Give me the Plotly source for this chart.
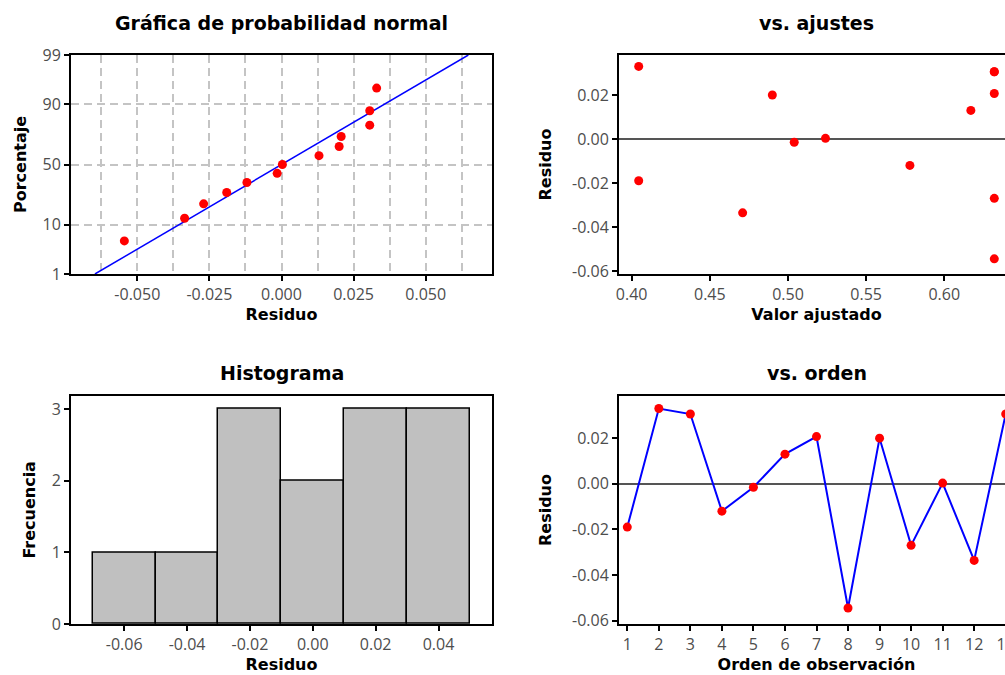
import numpy as np
import plotly.graph_objects as go
from statistics import NormalDist

# ---------------- data ----------------
observation = list(range(1, 14))
residuals = [-0.019, 0.033, 0.0306, -0.012, -0.0015, 0.013, 0.0207,
             -0.0545, 0.020, -0.027, 0.0003, -0.0336, 0.0306]
fitted = [0.4045, 0.4045, 0.632, 0.578, 0.504, 0.617, 0.632,
          0.632, 0.490, 0.632, 0.524, 0.471, 0.632]
hist_edges = [-0.07, -0.05, -0.03, -0.01, 0.01, 0.03, 0.05]

prob_pct_ticks = [1, 10, 50, 90, 99]
prob_x_ticks = [-0.05, -0.025, 0.0, 0.025, 0.05]
prob_x_labels = ["-0.050", "-0.025", "0.000", "0.025", "0.050"]
fit_x_ticks = [0.40, 0.45, 0.50, 0.55, 0.60]
fit_x_labels = ["0.40", "0.45", "0.50", "0.55", "0.60"]
resid_ticks = [-0.06, -0.04, -0.02, 0.0, 0.02]
resid_labels = ["-0.06", "-0.04", "-0.02", "0.00", "0.02"]
hist_x_ticks = [-0.06, -0.04, -0.02, 0.0, 0.02, 0.04]
hist_x_labels = ["-0.06", "-0.04", "-0.02", "0.00", "0.02", "0.04"]
freq_ticks = [0, 1, 2, 3]

# ---------------- derived ----------------
nd = NormalDist()
n = len(residuals)
sorted_res = sorted(residuals)
z_pts = [nd.inv_cdf((i - 0.3) / (n + 0.4)) for i in range(1, n + 1)]
mu = float(np.mean(residuals))
sd = float(np.std(residuals, ddof=1))
z_lo, z_hi = nd.inv_cdf(0.01), nd.inv_cdf(0.99)
line_z = [z_lo, z_hi]
line_x = [mu + sd * z for z in line_z]
counts, _ = np.histogram(residuals, bins=hist_edges)
centers = [(hist_edges[i] + hist_edges[i + 1]) / 2 for i in range(len(hist_edges) - 1)]
width_bin = hist_edges[1] - hist_edges[0]

# ---------------- layout helpers ----------------
W, H = 1035, 675
def px(x):
    return x / W
def py(y):
    return 1 - y / H

TICKFONT = dict(family="Open Sans, Arial, sans-serif", size=16, color="#4d4d4d")
TITLEFONT = dict(family="DejaVu Sans, Verdana, sans-serif", size=16, color="black", weight="bold")
RED = "#FF0000"
BLUE = "#0000FF"
GRID = "#C4C4C4"

def axis_common(**kw):
    d = dict(showline=True, linecolor="black", linewidth=2, mirror=True,
             ticks="outside", ticklen=5, tickwidth=1.5, tickcolor="black",
             tickfont=TICKFONT, showgrid=False, zeroline=False, fixedrange=True,
             automargin=False)
    d.update(kw)
    return d

fig = go.Figure()

# Normal probability plot
fig.add_trace(go.Scatter(x=line_x, y=line_z, mode="lines",
                         line=dict(color=BLUE, width=1.5),
                         xaxis="x", yaxis="y", showlegend=False, hoverinfo="skip"))
fig.add_trace(go.Scatter(x=sorted_res, y=z_pts, mode="markers",
                         marker=dict(color=RED, size=9),
                         xaxis="x", yaxis="y", showlegend=False))

# Residuals vs fits
fig.add_trace(go.Scatter(x=fitted, y=residuals, mode="markers",
                         marker=dict(color=RED, size=9),
                         xaxis="x2", yaxis="y2", showlegend=False))

# Histogram
fig.add_trace(go.Bar(x=centers, y=counts, width=width_bin,
                     marker=dict(color="#C0C0C0", line=dict(color="black", width=1.5)),
                     xaxis="x3", yaxis="y3", showlegend=False))

# Residuals vs order
fig.add_trace(go.Scatter(x=observation, y=residuals, mode="lines+markers",
                         line=dict(color=BLUE, width=2),
                         marker=dict(color=RED, size=9),
                         xaxis="x4", yaxis="y4", showlegend=False))

grid_kw = dict(showgrid=True, gridcolor=GRID, gridwidth=1.5, griddash="8px,5px")

fig.update_layout(
    width=W, height=H,
    margin=dict(l=0, r=0, t=0, b=0, autoexpand=False),
    paper_bgcolor="white", plot_bgcolor="white",
    showlegend=False,
    bargap=0,
    xaxis=axis_common(domain=[px(71), px(492)], range=[-0.073, 0.073],
                      tickmode="array", tickvals=prob_x_ticks, ticktext=prob_x_labels,
                      minor=dict(tickmode="linear", tick0=0, dtick=0.0125, ticklen=0, **grid_kw),
                      title=dict(text="Residuo", font=TITLEFONT, standoff=5),
                      anchor="y", **grid_kw),
    yaxis=axis_common(domain=[py(274), py(55)], range=[z_lo, z_hi],
                      tickmode="array", tickvals=[nd.inv_cdf(p / 100) for p in prob_pct_ticks],
                      ticktext=[str(p) for p in prob_pct_ticks],
                      title=dict(text="Porcentaje", font=TITLEFONT, standoff=12),
                      anchor="x", **grid_kw),
    xaxis2=axis_common(domain=[px(619), px(1014)], range=[0.3919, 0.6446],
                       tickmode="array", tickvals=fit_x_ticks, ticktext=fit_x_labels,
                       title=dict(text="Valor ajustado", font=TITLEFONT, standoff=5),
                       anchor="y2"),
    yaxis2=axis_common(domain=[py(274), py(55)], range=[-0.0614, 0.0382],
                       tickmode="array", tickvals=resid_ticks, ticktext=resid_labels,
                       zeroline=True, zerolinecolor="#555555", zerolinewidth=1.5,
                       title=dict(text="Residuo", font=TITLEFONT, standoff=16),
                       anchor="x2"),
    xaxis3=axis_common(domain=[px(71), px(492)], range=[-0.0769, 0.057],
                       tickmode="array", tickvals=hist_x_ticks, ticktext=hist_x_labels,
                       title=dict(text="Residuo", font=TITLEFONT, standoff=4),
                       anchor="y3"),
    yaxis3=axis_common(domain=[py(624), py(395.7)], range=[0, 3.186],
                       tickmode="array", tickvals=freq_ticks, ticktext=[str(v) for v in freq_ticks],
                       title=dict(text="Frecuencia", font=TITLEFONT, standoff=12),
                       anchor="x3"),
    xaxis4=axis_common(domain=[px(619), px(1014)], range=[0.737, 13.263],
                       tickmode="array", tickvals=observation, ticktext=[str(v) for v in observation],
                       title=dict(text="Orden de observación", font=TITLEFONT, standoff=4),
                       anchor="y4"),
    yaxis4=axis_common(domain=[py(624), py(396)], range=[-0.0615, 0.0385],
                       tickmode="array", tickvals=resid_ticks, ticktext=resid_labels,
                       zeroline=True, zerolinecolor="#555555", zerolinewidth=1.5,
                       title=dict(text="Residuo", font=TITLEFONT, standoff=16),
                       anchor="x4"),
)

SUBTITLE = dict(family="DejaVu Sans, Verdana, sans-serif", size=19, color="black", weight="bold")
titles = [("Gráfica de probabilidad normal", (71 + 492) / 2, 23),
          ("vs. ajustes", (619 + 1014) / 2, 23),
          ("Histograma", (71 + 492) / 2, 373),
          ("vs. orden", (619 + 1014) / 2, 373)]
for text, cx, cy in titles:
    fig.add_annotation(text=text, x=px(cx), y=py(cy), xref="paper", yref="paper",
                       xanchor="center", yanchor="middle", showarrow=False, font=SUBTITLE)

fig.write_html(
    "out.html",
    config={"displayModeBar": False},
    post_script="document.body.style.margin='0px';document.body.style.overflow='hidden';"
                "document.documentElement.style.overflow='hidden';",
)
